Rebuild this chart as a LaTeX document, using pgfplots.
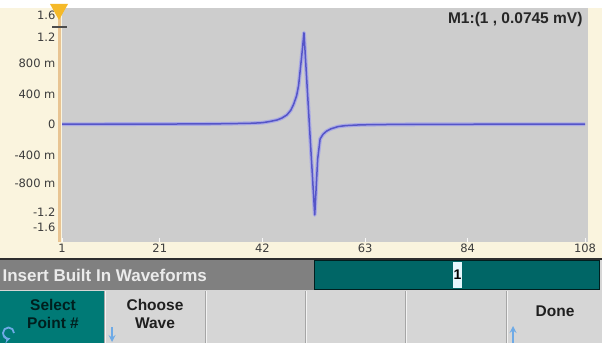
\documentclass[border=0pt]{standalone}
\usepackage{pgfplots}
\pgfplotsset{compat=1.18}
\usepackage{pgfplotstable}
\usepackage{fontspec}
\setmainfont{Liberation Sans}
\newfontfamily\dejavu{DejaVu Sans}

\definecolor{cream}{RGB}{250,244,222}
\definecolor{plotgray}{RGB}{205,205,205}
\definecolor{tanline}{RGB}{232,196,146}
\definecolor{bargray}{RGB}{128,128,128}
\definecolor{tealbar}{RGB}{0,102,102}
\definecolor{tealkey}{RGB}{0,122,118}
\definecolor{keygray}{RGB}{214,214,214}
\definecolor{ticktext}{RGB}{60,60,60}
\definecolor{wave}{RGB}{85,85,200}
\definecolor{glow}{RGB}{170,170,228}
\definecolor{gold}{RGB}{245,185,40}
\definecolor{iconblue}{RGB}{110,170,230}

% built-in waveform, point index vs. amplitude (V)
\pgfplotstableread{
x y
1 0
10 0.001
20 0.002
30 0.004
35 0.007
40 0.013
42 0.02
43.5 0.035
45 0.055
46 0.08
47 0.12
47.8 0.18
48.4 0.26
49 0.37
49.4 0.5
49.7 0.68
50.1 0.92
50.5 1.18
51.6 0
52.7 -1.17
53.3 -0.45
53.8 -0.19
54.4 -0.13
55.1 -0.09
56 -0.06
57.5 -0.03
59 -0.018
62 -0.008
66 -0.004
75 -0.001
90 0
108 0
}\wavedata

\begin{document}
\begin{tikzpicture}[x=1pt,y=1pt]
\path[use as bounding box] (0,0) rectangle (602,343);
\fill[white] (0,0) rectangle (602,343);
% side and bottom panels
\fill[cream] (0,85) rectangle (62,335);
\fill[cream] (588,85) rectangle (602,335);
\fill[cream] (0,85) rectangle (602,101);

\begin{axis}[
  at={(62pt,101pt)}, anchor=south west,
  width=526pt, height=234pt, scale only axis,
  xmin=1, xmax=108.6, ymin=-1.52, ymax=1.5,
  axis line style={draw=none},
  axis background/.style={fill=plotgray},
  xtick={1,21,42,63,84,108},
  xticklabels={1,21,42,63,84,108},
  ytick={-1.33,-1.13,-0.76,-0.4,0,0.39,0.78,1.12,1.41},
  yticklabels={-1.6,-1.2,-800 m,-400 m,0,400 m,800 m,1.2,1.6},
  tick pos=left,
  major tick length=4pt,
  xtick style={draw=white!85!plotgray, line width=1pt},
  ytick style={draw=none},
  tick label style={font=\dejavu\fontsize{11.5}{12}\selectfont, text=ticktext},
  yticklabel style={xshift=-3pt},
  xticklabel style={yshift=1.5pt},
]
\addplot[glow, line width=3.8pt, line join=round] table[x=x,y=y] {\wavedata};
\addplot[wave, line width=1.5pt, line join=round] table[x=x,y=y] {\wavedata};
\end{axis}

\draw[tanline, line width=3pt] (59.5,101) -- (59.5,335);
% marker
\fill[gold] (50,339) -- (68,339) -- (59,323) -- cycle;
\draw[black!70, line width=1.2pt] (52,316) -- (67,316);
\node[anchor=north east, font=\bfseries\fontsize{15.5}{16}\selectfont, text=black!85] at (586,334) {M1:(1 , 0.0745 mV)};

% status bar
\fill[black!82] (0,83) rectangle (602,85);
\fill[bargray] (0,53) rectangle (314,83);
\fill[keygray] (600,53) rectangle (602,83);
\draw[fill=tealbar, draw=black!70!tealbar, line width=1pt] (314.5,53.5) rectangle (599.5,82.5);
\fill[cyan!10] (453,55) rectangle (462,81);
\node[font=\bfseries\fontsize{14}{14}\selectfont] at (457.5,68) {1};
\node[anchor=west, text=white!92!black, font=\bfseries\fontsize{17}{17}\selectfont] at (-1,68) {Insert Built In Waveforms};

% softkeys
\fill[keygray] (0,0) rectangle (602,53);
\fill[tealkey] (0,0) rectangle (104,52);
\foreach \s in {104,205,305,405,506} {
  \draw[black!35, line width=1pt] (\s,0) -- (\s,52);
  \draw[white!70!keygray, line width=1pt] (\s+1.5,0) -- (\s+1.5,52);
}
\node[align=center, text=black!75!tealkey, font=\bfseries\fontsize{15.5}{17.5}\selectfont] at (53,29) {Select\\Point \#};
\node[align=center, text=black!88, font=\bfseries\fontsize{15.5}{17.5}\selectfont] at (155,29) {Choose\\Wave};
\node[text=black!88, font=\bfseries\fontsize{15.5}{16}\selectfont] at (555,32) {Done};
% icons
\draw[iconblue, line width=1.8pt, -stealth] (14,10) arc (0:290:5.5);
\draw[iconblue, line width=2pt, -stealth] (112,16) -- (112,1);
\draw[iconblue, line width=2pt, -stealth] (513,0) -- (513,17);
\end{tikzpicture}
\end{document}
